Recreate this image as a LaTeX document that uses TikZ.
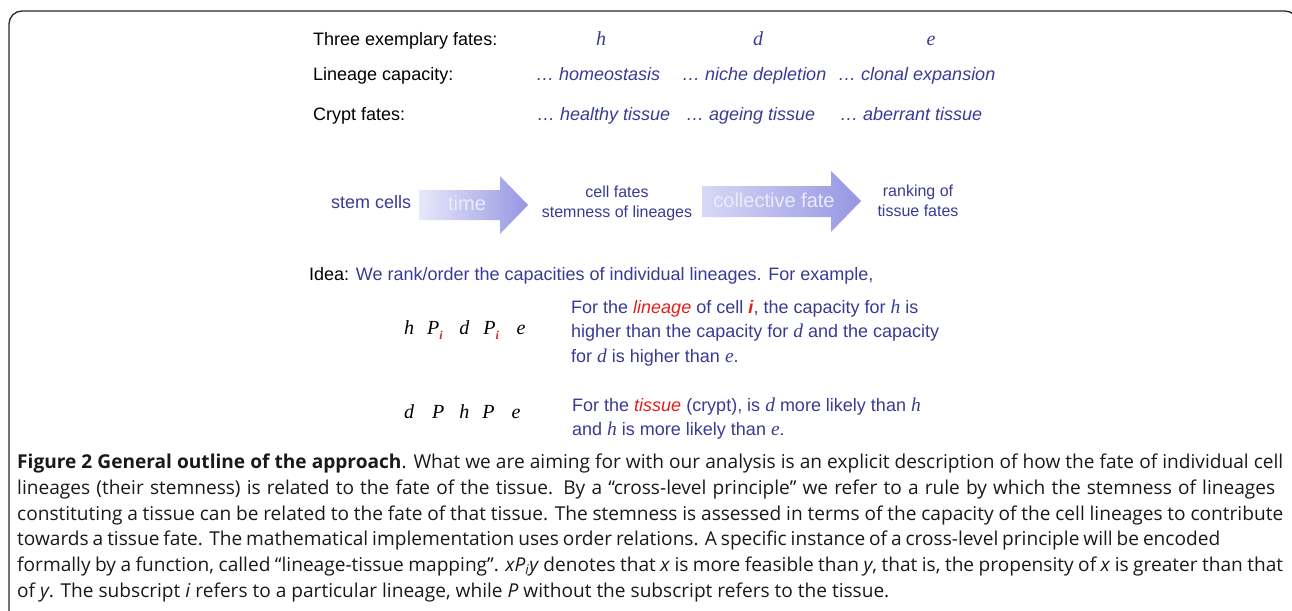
\documentclass[tikz,border=0pt]{standalone}
\usepackage{fontspec}
\setmainfont{Liberation Sans}
\newfontfamily\timesfont{Liberation Serif}
\newfontfamily\captfont{Open Sans}
\definecolor{ideablue}{RGB}{58,58,150}
\definecolor{ideared}{RGB}{225,30,30}
\definecolor{arrowlight}{RGB}{232,232,251}
\definecolor{arrowdark}{RGB}{150,150,226}
\definecolor{framegray}{RGB}{40,40,40}
\newcommand{\vi}[1]{{\timesfont\itshape\fontsize{19.5}{24.5}\selectfont #1}}
\newcommand{\redi}{\textcolor{ideared}{\textbf{\textit{i}}}}
\newcommand{\subi}{\rlap{\raisebox{-5pt}{\fontsize{12}{12}\selectfont\redi}}}
\newcommand{\captline}[2]{\makebox[#1][s]{#2}}

\begin{document}
\begin{tikzpicture}[x=1pt,y=-1pt,
    lbl/.style={anchor=west,inner sep=0pt,text height=13pt,text depth=4pt,font=\fontsize{18}{22}\selectfont},
    fate/.style={lbl,text=ideablue,font=\fontsize{18}{22}\selectfont\itshape},
    var/.style={inner sep=0pt,text height=13pt,text depth=4pt,text=ideablue,font=\fontsize{20}{22}\selectfont\timesfont\itshape},
    mid/.style={inner sep=0pt,align=center,text=ideablue,font=\fontsize{16}{20}\selectfont},
    arrowtxt/.style={inner sep=0pt,text height=13pt,text depth=4pt,text=white!92!blue,font=\fontsize{20}{22}\selectfont},
    expr/.style={anchor=west,inner sep=0pt,text height=13pt,text depth=4pt,font=\fontsize{20}{22}\selectfont\timesfont\itshape},
    para/.style={anchor=west,inner sep=0pt,align=left,text=ideablue,font=\fontsize{18}{24.5}\selectfont},
    capt/.style={anchor=west,inner sep=0pt,align=left,text=black!90,font=\fontsize{19.1}{25.8}\selectfont\captfont}]
    \useasboundingbox (0,0) rectangle (1292,610);
    % Rahmen
    \draw[framegray,line width=1.3pt,rounded corners=13pt] (9,660) -- (9,11) -- (1298,11) -- (1298,660);
    % Drei Schicksale
    \node[lbl] (threefates) at (313,41) {Three exemplary fates:};
    \node[var] (fh) at (601,41) {h};
    \node[var] (fd) at (758,41) {d};
    \node[var] (fe) at (931,41) {e};
    % Kapazitaet
    \node[lbl] (lincap) at (313,76) {Lineage capacity:};
    \foreach \x/\txt in {536/homeostasis,682/niche depletion,838/clonal expansion}
      \node[fate] (cap\x) at (\x,76) {… \txt};
    % Krypten
    \node[lbl] (crypt) at (313,116) {Crypt fates:};
    \foreach \x/\txt in {537/healthy tissue,686/ageing tissue,840/aberrant tissue}
      \node[fate] (cry\x) at (\x,116) {… \txt};
    % Pfeile
    \node[lbl,text=ideablue] (stem) at (331,204) {stem cells};
    \shade[left color=arrowlight,right color=arrowdark]
      (419,190) -- (500,190) -- (500,176) -- (528,205) -- (500,234) -- (500,220) -- (419,220) -- cycle;
    \node[arrowtxt] (time) at (467,206) {time};
    \node[mid] (cellfates) at (617,203) {cell fates\\stemness of lineages};
    \shade[left color=arrowlight!80!arrowdark,right color=arrowdark]
      (702,186) -- (831,186) -- (831,171) -- (861,201) -- (831,232) -- (831,217) -- (702,217) -- cycle;
    \node[arrowtxt] (collective) at (774,203) {collective fate};
    \node[mid] (ranking) at (918,201) {ranking of\\tissue fates};
    % Idee
    \node[lbl] (idea) at (309,276) {Idea: \textcolor{ideablue}{We rank/order the capacities of individual lineages. For example,}};
    \node[expr] (lexpr) at (404,330) {h\hspace{13pt}P\subi\hspace{20pt}d\hspace{14pt}P\subi\hspace{21pt}e};
    \node[para] (lpara) at (571,333) {For the \textcolor{ideared}{\textit{lineage}} of cell \redi, the capacity for \vi{h} is\\
      higher than the capacity for \vi{d} and the capacity\\
      for \vi{d} is higher than \vi{e}.};
    \node[expr] (texpr) at (404,414) {d\hspace{18pt}P\hspace{15pt}h\hspace{13pt}P\hspace{17pt}e};
    \node[para] (tpara) at (572,418.5) {For the \textcolor{ideared}{\textit{tissue}} (crypt), is \vi{d} more likely than \vi{h}\\
      and \vi{h} is more likely than \vi{e}.};
    % Bildunterschrift
    \node[capt] (caption) at (17,528) {\captline{1266pt}{\textbf{Figure 2 General outline of the approach}. What we are aiming for with our analysis is an explicit description of how the fate of individual cell}\\
      \captline{1258pt}{lineages (their stemness) is related to the fate of the tissue. By a “cross-level principle” we refer to a rule by which the stemness of lineages}\\
      \captline{1266pt}{constituting a tissue can be related to the fate of that tissue. The stemness is assessed in terms of the capacity of the cell lineages to contribute}\\
      \captline{1203pt}{towards a tissue fate. The mathematical implementation uses order relations. A specific instance of a cross-level principle will be encoded}\\
      \captline{1266pt}{formally by a function, called “lineage-tissue mapping”. \textit{xP\textsubscript{i}y} denotes that \textit{x} is more feasible than \textit{y}, that is, the propensity of \textit{x} is greater than that}\\
      of \textit{y}. The subscript \textit{i} refers to a particular lineage, while \textit{P} without the subscript refers to the tissue.};
\end{tikzpicture}
\end{document}
